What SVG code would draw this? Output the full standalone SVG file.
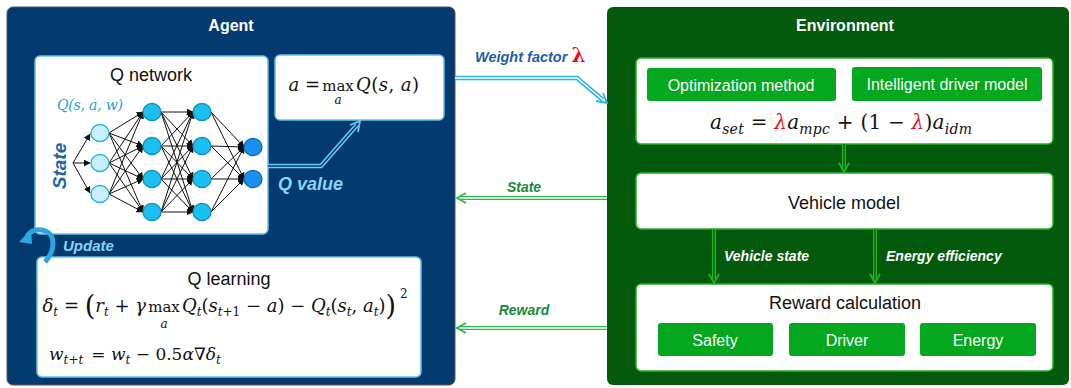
<svg xmlns="http://www.w3.org/2000/svg" width="1071" height="388" viewBox="0 0 1071 388">
<defs>
<style>
.sans{font-family:"Liberation Sans",Arial,sans-serif}
.m{font-family:"DejaVu Serif","Liberation Serif",serif;fill:#111}
.i{font-style:italic}
.ttl{font-family:"Liberation Sans",Arial,sans-serif;font-weight:bold;font-size:16px;fill:#fff;text-anchor:middle}
.abox{fill:#fff;stroke:#5ec3f2;stroke-width:1.5}
.gbox{fill:#fff;stroke:#22b02a;stroke-width:1.5}
.btn{fill:#03a81f}
.btxt{font-family:"Liberation Sans",Arial,sans-serif;font-size:16px;fill:#fff;text-anchor:middle}
.btxt2{font-family:"Liberation Sans",Arial,sans-serif;font-size:18px;fill:#111;text-anchor:middle}
.nn line{stroke:#111;stroke-width:1}
.inN{fill:#c9eefc;stroke:#25b4ea;stroke-width:1.3}
.hN{fill:#1cc0f0;stroke:#0e92c6;stroke-width:1.3}
.oN{fill:#1a90ee;stroke:#0b6cc0;stroke-width:1.3}
.lbl{font-family:"Liberation Sans",Arial,sans-serif;font-weight:bold;font-style:italic;font-size:14px}
.s{font-size:12px}
.red{fill:#e8101a}
</style>
<marker id="ah" viewBox="0 0 10 10" refX="9" refY="5" markerWidth="7" markerHeight="7" markerUnits="userSpaceOnUse" orient="auto">
<path d="M0,0 L10,5 L0,10 z" fill="#111"/>
</marker>
</defs>
<rect width="1071" height="388" fill="#fff"/>

<g id="agent">
<rect x="7" y="7" width="448" height="378" rx="6" fill="#033a6f" stroke="#555" stroke-width="1"/>
<text class="ttl" x="231" y="31">Agent</text>
</g>

<g id="environment">
<rect x="607" y="7" width="462" height="378" rx="6" fill="#045a0c"/>
<text class="ttl" x="845" y="31">Environment</text>
</g>

<g id="q-network">
<rect class="abox" x="35" y="56" width="233" height="178" rx="5"/>
<text class="sans" x="151" y="81" font-size="18" text-anchor="middle" fill="#111">Q network</text>
<text class="m i" x="57" y="110" font-size="14" textLength="66" style="fill:#1a9fe6">Q(s, a, w)</text>
<text class="lbl" x="0" y="0" fill="#1f63ad" text-anchor="middle" transform="translate(66,166) rotate(-90)" style="font-size:19px">State</text>
<g class="nn">
<line x1="73" y1="163" x2="90" y2="134" marker-end="url(#ah)"/>
<line x1="73" y1="163" x2="90" y2="163" marker-end="url(#ah)"/>
<line x1="73" y1="163" x2="90" y2="193" marker-end="url(#ah)"/>
<line x1="109" y1="133" x2="143" y2="112" marker-end="url(#ah)"/>
<line x1="109" y1="133" x2="143" y2="146" marker-end="url(#ah)"/>
<line x1="109" y1="133" x2="143" y2="179" marker-end="url(#ah)"/>
<line x1="109" y1="133" x2="143" y2="212" marker-end="url(#ah)"/>
<line x1="109" y1="163" x2="143" y2="112" marker-end="url(#ah)"/>
<line x1="109" y1="163" x2="143" y2="146" marker-end="url(#ah)"/>
<line x1="109" y1="163" x2="143" y2="179" marker-end="url(#ah)"/>
<line x1="109" y1="163" x2="143" y2="212" marker-end="url(#ah)"/>
<line x1="109" y1="194" x2="143" y2="112" marker-end="url(#ah)"/>
<line x1="109" y1="194" x2="143" y2="146" marker-end="url(#ah)"/>
<line x1="109" y1="194" x2="143" y2="179" marker-end="url(#ah)"/>
<line x1="109" y1="194" x2="143" y2="212" marker-end="url(#ah)"/>
<line x1="161" y1="112" x2="193" y2="112" marker-end="url(#ah)"/>
<line x1="161" y1="112" x2="193" y2="146" marker-end="url(#ah)"/>
<line x1="161" y1="112" x2="193" y2="179" marker-end="url(#ah)"/>
<line x1="161" y1="112" x2="193" y2="212" marker-end="url(#ah)"/>
<line x1="161" y1="146" x2="193" y2="112" marker-end="url(#ah)"/>
<line x1="161" y1="146" x2="193" y2="146" marker-end="url(#ah)"/>
<line x1="161" y1="146" x2="193" y2="179" marker-end="url(#ah)"/>
<line x1="161" y1="146" x2="193" y2="212" marker-end="url(#ah)"/>
<line x1="161" y1="179" x2="193" y2="112" marker-end="url(#ah)"/>
<line x1="161" y1="179" x2="193" y2="146" marker-end="url(#ah)"/>
<line x1="161" y1="179" x2="193" y2="179" marker-end="url(#ah)"/>
<line x1="161" y1="179" x2="193" y2="212" marker-end="url(#ah)"/>
<line x1="161" y1="212" x2="193" y2="112" marker-end="url(#ah)"/>
<line x1="161" y1="212" x2="193" y2="146" marker-end="url(#ah)"/>
<line x1="161" y1="212" x2="193" y2="179" marker-end="url(#ah)"/>
<line x1="161" y1="212" x2="193" y2="212" marker-end="url(#ah)"/>
<line x1="211" y1="112" x2="244" y2="147" marker-end="url(#ah)"/>
<line x1="211" y1="112" x2="244" y2="179" marker-end="url(#ah)"/>
<line x1="211" y1="146" x2="244" y2="147" marker-end="url(#ah)"/>
<line x1="211" y1="146" x2="244" y2="179" marker-end="url(#ah)"/>
<line x1="211" y1="179" x2="244" y2="147" marker-end="url(#ah)"/>
<line x1="211" y1="179" x2="244" y2="179" marker-end="url(#ah)"/>
<line x1="211" y1="212" x2="244" y2="147" marker-end="url(#ah)"/>
<line x1="211" y1="212" x2="244" y2="179" marker-end="url(#ah)"/>
</g>
<ellipse class="inN" cx="100" cy="133" rx="9" ry="8.5"/>
<ellipse class="inN" cx="100" cy="163" rx="9" ry="8.5"/>
<ellipse class="inN" cx="100" cy="194" rx="9" ry="8.5"/>
<ellipse class="hN" cx="152" cy="112" rx="9" ry="8.5"/>
<ellipse class="hN" cx="152" cy="146" rx="9" ry="8.5"/>
<ellipse class="hN" cx="152" cy="179" rx="9" ry="8.5"/>
<ellipse class="hN" cx="152" cy="212" rx="9" ry="8.5"/>
<ellipse class="hN" cx="202" cy="112" rx="9" ry="8.5"/>
<ellipse class="hN" cx="202" cy="146" rx="9" ry="8.5"/>
<ellipse class="hN" cx="202" cy="179" rx="9" ry="8.5"/>
<ellipse class="hN" cx="202" cy="212" rx="9" ry="8.5"/>
<ellipse class="oN" cx="253" cy="147" rx="9" ry="8.5"/>
<ellipse class="oN" cx="253" cy="179" rx="9" ry="8.5"/>
</g>

<g id="action-select">
<rect class="abox" x="275" y="55" width="169" height="65" rx="5"/>
<text class="m" x="320" y="91" font-size="18" text-anchor="end"><tspan class="i">a</tspan> =</text>
<text class="m" x="338" y="91" font-size="15" text-anchor="middle">max</text>
<text class="m i s" x="338" y="104" text-anchor="middle">a</text>
<text class="m" x="356" y="91" font-size="18" textLength="63"><tspan class="i">Q</tspan>(<tspan class="i">s</tspan>, <tspan class="i">a</tspan>)</text>
</g>

<g id="q-learning">
<rect class="abox" x="37" y="257" width="384" height="120" rx="5"/>
<text class="sans" x="229" y="285" font-size="18" text-anchor="middle" fill="#111">Q learning</text>
<text class="m" x="146" y="312" font-size="18" text-anchor="end"><tspan class="i">δ</tspan><tspan class="i s" dy="4">t</tspan><tspan dy="-4"> = </tspan><tspan font-size="27" dy="3">(</tspan><tspan class="i" dy="-3">r</tspan><tspan class="i s" dy="4">t</tspan><tspan dy="-4"> + </tspan><tspan class="i">γ</tspan></text>
<text class="m" x="164" y="312" font-size="15" text-anchor="middle">max</text>
<text class="m i s" x="164" y="328" text-anchor="middle">a</text>
<text class="m" x="182" y="312" font-size="18" textLength="214"><tspan class="i">Q</tspan><tspan class="i s" dy="4">t</tspan><tspan dy="-4">(</tspan><tspan class="i">s</tspan><tspan class="s" dy="4"><tspan class="i">t</tspan>+1</tspan><tspan dy="-4"> − </tspan><tspan class="i">a</tspan><tspan>) − </tspan><tspan class="i">Q</tspan><tspan class="i s" dy="4">t</tspan><tspan dy="-4">(</tspan><tspan class="i">s</tspan><tspan class="i s" dy="4">t</tspan><tspan dy="-4">, </tspan><tspan class="i">a</tspan><tspan class="i s" dy="4">t</tspan><tspan dy="-4">)</tspan><tspan font-size="27" dy="3">)</tspan></text>
<text class="m s" x="400" y="298">2</text>
<text class="m" x="49" y="360" font-size="17"><tspan class="i">w</tspan><tspan class="s" dy="4"><tspan class="i">t</tspan>+<tspan class="i">t</tspan></tspan><tspan dy="-4" dx="8">= </tspan><tspan class="i">w</tspan><tspan class="i s" dy="4">t</tspan><tspan dy="-4"> − 0.5</tspan><tspan class="i">α</tspan><tspan>∇</tspan><tspan class="i">δ</tspan><tspan class="i s" dy="4">t</tspan></text>
</g>

<g id="action-blend">
<rect class="gbox" x="636" y="58" width="417" height="86" rx="5"/>
<rect class="btn" x="647" y="68" width="189" height="33" rx="3"/>
<text class="btxt" x="741" y="91">Optimization method</text>
<rect class="btn" x="852" y="67" width="190" height="34" rx="3"/>
<text class="btxt" x="947" y="90">Intelligent driver model</text>
<text class="m" x="710" y="129" font-size="20" textLength="262"><tspan class="i">a</tspan><tspan class="i" font-size="14" dy="5">set</tspan><tspan dy="-5"> = </tspan><tspan class="i red">λ</tspan><tspan class="i">a</tspan><tspan class="i" font-size="14" dy="5">mpc</tspan><tspan dy="-5"> + (1 − </tspan><tspan class="i red">λ</tspan><tspan>)</tspan><tspan class="i">a</tspan><tspan class="i" font-size="14" dy="5">idm</tspan></text>
</g>

<g id="vehicle-model">
<rect class="gbox" x="636" y="173" width="417" height="56" rx="5"/>
<text class="btxt2" x="844" y="209">Vehicle model</text>
</g>

<g id="reward-calculation">
<rect class="gbox" x="636" y="284" width="417" height="87" rx="5"/>
<text class="btxt2" x="845" y="309">Reward calculation</text>
<rect class="btn" x="658" y="323" width="115" height="33" rx="3"/>
<text class="btxt" x="715" y="346">Safety</text>
<rect class="btn" x="789" y="323" width="116" height="33" rx="3"/>
<text class="btxt" x="847" y="346">Driver</text>
<rect class="btn" x="920" y="323" width="116" height="33" rx="3"/>
<text class="btxt" x="978" y="346">Energy</text>
</g>

<g id="connectors" fill="none" stroke-linecap="butt" stroke-linejoin="miter">
<path d="M268,166 L321,166 L357,125" stroke="#6cc9f3" stroke-width="4.5"/>
<path d="M268,166 L321,166 L357,125" stroke="#033a6f" stroke-width="1.5"/>
<path d="M350,125 L360,121 L358,132" stroke="#6cc9f3" stroke-width="1.8"/>
<path d="M455,78 L577,78 L603,100" stroke="#2ab2ec" stroke-width="4.5"/>
<path d="M455,78 L577,78 L603,100" stroke="#fff" stroke-width="1.5"/>
<path d="M596,101 L607,103 L603,93" stroke="#2ab2ec" stroke-width="1.8"/>
<path d="M607,198 L460,198" stroke="#2bb94c" stroke-width="4"/>
<path d="M607,198 L460,198" stroke="#fff" stroke-width="1.3"/>
<path d="M466,193 L457,198 L466,203" stroke="#2bb94c" stroke-width="1.8"/>
<path d="M607,328 L460,328" stroke="#2bb94c" stroke-width="4"/>
<path d="M607,328 L460,328" stroke="#fff" stroke-width="1.3"/>
<path d="M466,323 L457,328 L466,333" stroke="#2bb94c" stroke-width="1.8"/>
<path d="M844,144 L844,169" stroke="#1fb522" stroke-width="4"/>
<path d="M844,144 L844,169" stroke="#045a0c" stroke-width="1.3"/>
<path d="M839,163 L844,172 L849,163" stroke="#1fb522" stroke-width="1.8"/>
<path d="M714,229 L714,280" stroke="#1fb522" stroke-width="4"/>
<path d="M714,229 L714,280" stroke="#045a0c" stroke-width="1.3"/>
<path d="M709,274 L714,283 L719,274" stroke="#1fb522" stroke-width="1.8"/>
<path d="M875,229 L875,280" stroke="#1fb522" stroke-width="4"/>
<path d="M875,229 L875,280" stroke="#045a0c" stroke-width="1.3"/>
<path d="M870,274 L875,283 L880,274" stroke="#1fb522" stroke-width="1.8"/>
<path d="M45,262 C56,250 56,232 42,230 C35,229 30,232 27,236" stroke="#2ea6e0" stroke-width="5"/>
<path d="M19,242 L31,229 L32,244 z" fill="#2ea6e0" stroke="none"/>
</g>

<g id="labels">
<text class="lbl" x="63" y="251" style="font-size:15px" fill="#86d4f6">Update</text>
<text class="lbl" x="278" y="190" style="font-size:18px" fill="#86d4f6">Q value</text>
<text class="lbl" x="475" y="62" style="font-size:14.5px" fill="#1f5ea8">Weight factor <tspan style="font-family:'DejaVu Serif',serif;font-size:20px;font-style:normal" fill="#e8101a">λ</tspan></text>
<text class="lbl" x="524" y="192" text-anchor="middle" fill="#1a8a3a">State</text>
<text class="lbl" x="524" y="315" text-anchor="middle" fill="#1a8a3a">Reward</text>
<text class="lbl" x="724" y="261" fill="#fff">Vehicle state</text>
<text class="lbl" x="886" y="261" fill="#fff">Energy efficiency</text>
</g>
</svg>
